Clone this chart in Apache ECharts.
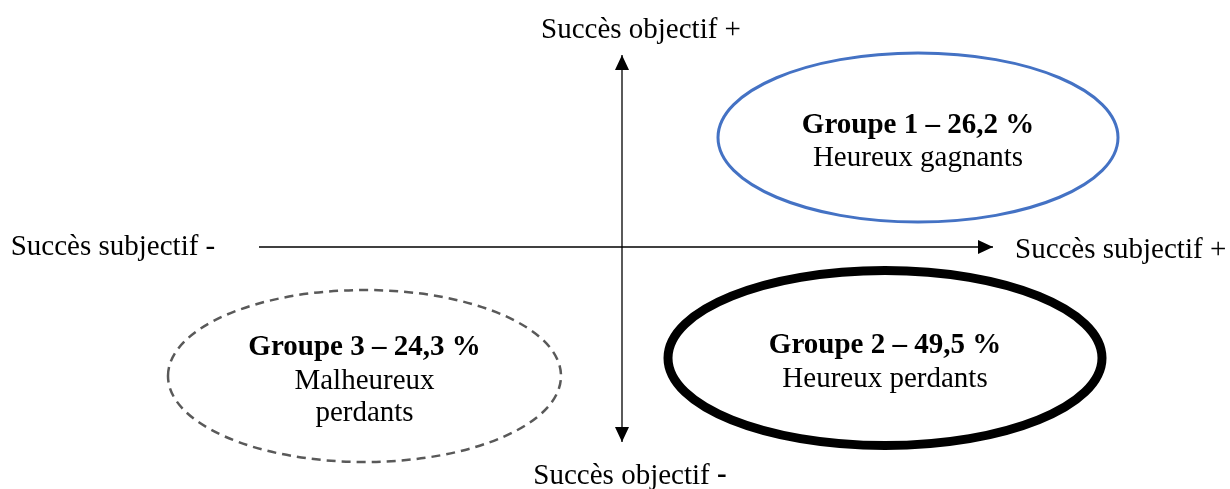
<!DOCTYPE html>
<html>
<head>
<meta charset="utf-8">
<script src="https://cdn.jsdelivr.net/npm/echarts@6/dist/echarts.min.js"></script>
<style>
html,body{margin:0;padding:0;background:#fff;}
#chart{width:1230px;height:489px;}
</style>
</head>
<body>
<div id="chart"></div>
<script>
// ---- data (diagram units, origin = crossing of the two axes) ----
const groupTitles = ['Groupe 1 – 26,2 %', 'Groupe 2 – 49,5 %', 'Groupe 3 – 24,3 %'];
const groupSubtitles = ['Heureux gagnants', 'Heureux perdants', 'Malheureux\nperdants'];
const groupCenterX = [296, 263, -257.5];
const groupCenterY = [109.5, -111, -129];
const groupRadiusX = [200, 217, 196.5];
const groupRadiusY = [84.5, 87.5, 86];

const axisNames = ['Succès subjectif -', 'Succès subjectif +', 'Succès objectif +', 'Succès objectif -'];
const horizontalAxisExtent = [-363, 371];
const verticalAxisExtent = [-195, 192];

// ---- styles ----
const groupStyles = [
  { stroke: '#4472C4', lineWidth: 3, lineDash: null },
  { stroke: '#000000', lineWidth: 9, lineDash: null },
  { stroke: '#595959', lineWidth: 2.5, lineDash: [9, 6] }
];
const FONT = '"Liberation Serif", "Times New Roman", serif';
const FS = 29;
const LH = 33;

const chart = echarts.init(document.getElementById('chart'), null, { renderer: 'canvas' });

const ellipseData = groupCenterX.map((x, i) => [x, groupCenterY[i], groupRadiusX[i], groupRadiusY[i], i]);

// axis segments: [x1, y1, x2, y2, arrowAtStart, arrowAtEnd]
const axisSegments = [
  [horizontalAxisExtent[0], 0, horizontalAxisExtent[1], 0, 0, 1],
  [0, verticalAxisExtent[0], 0, verticalAxisExtent[1], 1, 1]
];

// axis name anchors: [x, y, align]
const axisNameAnchors = [
  [-509, 0, 'center'],
  [393, -3, 'left'],
  [19, 217, 'center'],
  [8, -229, 'center']
];

function arrowHead(tip, from) {
  const dx = tip[0] - from[0], dy = tip[1] - from[1];
  const len = Math.sqrt(dx * dx + dy * dy);
  const ux = dx / len, uy = dy / len;
  const L = 15, W = 7;
  const bx = tip[0] - ux * L, by = tip[1] - uy * L;
  return [[tip[0], tip[1]], [bx - uy * W, by + ux * W], [bx + uy * W, by - ux * W]];
}

const option = {
  animation: false,
  backgroundColor: '#ffffff',
  grid: { left: 0, right: 0, top: 0, bottom: 0 },
  xAxis: { type: 'value', min: -622, max: 608, show: false },
  yAxis: { type: 'value', min: -242, max: 247, show: false },
  series: [
    {
      type: 'custom',
      coordinateSystem: 'cartesian2d',
      data: axisSegments,
      renderItem: function (params, api) {
        const p1 = api.coord([api.value(0), api.value(1)]);
        const p2 = api.coord([api.value(2), api.value(3)]);
        const children = [];
        const a1 = api.value(4), a2 = api.value(5);
        children.push({
          type: 'line',
          shape: { x1: p1[0], y1: p1[1], x2: p2[0], y2: p2[1] },
          style: { stroke: '#000', lineWidth: 1.3 }
        });
        if (a2) children.push({ type: 'polygon', shape: { points: arrowHead(p2, p1) }, style: { fill: '#000' } });
        if (a1) children.push({ type: 'polygon', shape: { points: arrowHead(p1, p2) }, style: { fill: '#000' } });
        return { type: 'group', children: children };
      }
    },
    {
      type: 'custom',
      coordinateSystem: 'cartesian2d',
      data: ellipseData,
      renderItem: function (params, api) {
        const c = api.coord([api.value(0), api.value(1)]);
        const s = api.size([api.value(2), api.value(3)]);
        const i = api.value(4);
        const st = groupStyles[i];
        const style = { fill: null, stroke: st.stroke, lineWidth: st.lineWidth };
        if (st.lineDash) style.lineDash = st.lineDash;
        return {
          type: 'group',
          children: [
            {
              type: 'ellipse',
              shape: { cx: c[0], cy: c[1], rx: s[0], ry: s[1] },
              style: style
            },
            {
              type: 'text',
              style: {
                x: c[0], y: c[1] + 4,
                text: '{b|' + groupTitles[i] + '}\n{n|' + groupSubtitles[i].split('\n').join('}\n{n|') + '}',
                align: 'center',
                verticalAlign: 'middle',
                rich: {
                  b: { fontFamily: FONT, fontSize: FS, fontWeight: 'bold', fill: '#000', lineHeight: LH + 1, align: 'center' },
                  n: { fontFamily: FONT, fontSize: FS, fontWeight: 'normal', fill: '#000', lineHeight: LH - 1, align: 'center' }
                }
              }
            }
          ]
        };
      }
    },
    {
      type: 'custom',
      coordinateSystem: 'cartesian2d',
      data: axisNameAnchors.map((a, i) => [a[0], a[1], i]),
      renderItem: function (params, api) {
        const p = api.coord([api.value(0), api.value(1)]);
        const i = api.value(2);
        let text = axisNames[i];
        if (i === 3) text = '{n|Succès objectif }{b|-}';
        else text = '{n|' + text + '}';
        return {
          type: 'text',
          style: {
            x: p[0], y: p[1],
            text: text,
            align: axisNameAnchors[i][2],
            verticalAlign: 'middle',
            rich: {
              n: { fontFamily: FONT, fontSize: FS, fill: '#000' },
              b: { fontFamily: FONT, fontSize: FS, fontWeight: 'bold', fill: '#000' }
            }
          }
        };
      }
    }
  ]
};

chart.setOption(option);
</script>
</body>
</html>
